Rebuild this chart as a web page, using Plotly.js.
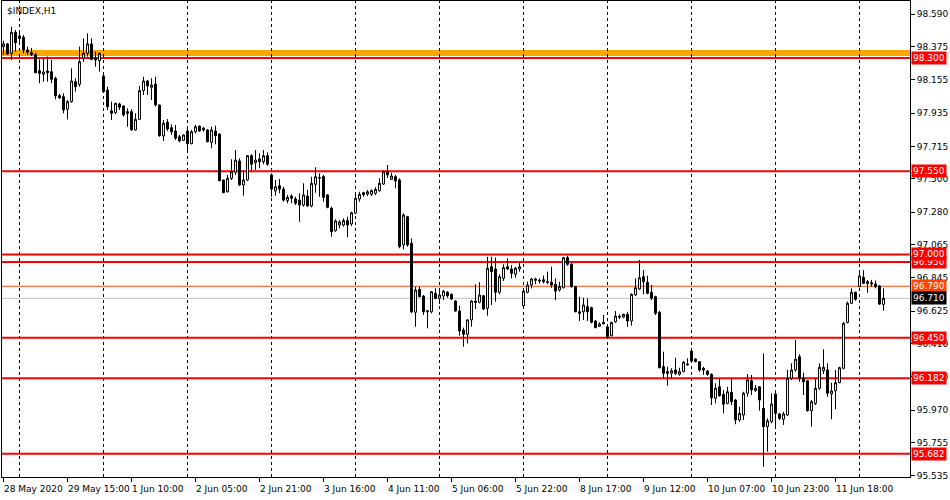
<!DOCTYPE html>
<html><head><meta charset="utf-8">
<script src="https://cdn.plot.ly/plotly-3.0.1.min.js"></script>
<style>html,body{margin:0;padding:0;background:#fff}#chart{width:950px;height:500px}</style>
</head><body><div id="chart"></div>
<script>
const symbolTitle = '$INDEX,H1';

const open = [
98.375,98.393,98.331,98.470,98.446,98.437,98.353,98.335,98.322,98.216,
98.192,98.214,98.209,98.166,98.051,98.044,97.961,98.011,98.143,98.126,
98.298,98.331,98.393,98.298,98.282,98.181,98.088,97.951,97.938,97.996,
97.982,97.945,97.945,97.824,97.894,98.084,98.148,98.106,98.128,97.989,
97.784,97.875,97.839,97.817,97.779,97.755,97.817,97.733,97.812,97.850,
97.835,97.824,97.742,97.817,97.797,97.493,97.415,97.504,97.544,97.619,
97.460,97.493,97.654,97.607,97.632,97.614,97.654,97.526,97.420,97.455,
97.433,97.356,97.387,97.367,97.360,97.327,97.387,97.321,97.464,97.504,
97.515,97.394,97.306,97.157,97.195,97.195,97.224,97.202,97.273,97.367,
97.409,97.400,97.398,97.405,97.422,97.466,97.548,97.497,97.515,97.493,
97.063,97.250,97.074,96.618,96.770,96.725,96.628,96.621,96.743,96.710,
96.725,96.750,96.737,96.692,96.626,96.500,96.472,96.567,96.692,96.684,
96.727,96.644,96.919,96.904,96.750,96.842,96.919,96.904,96.869,96.904,
96.661,96.750,96.798,96.829,96.829,96.833,96.820,96.816,96.803,96.765,
96.780,96.979,96.935,96.787,96.621,96.621,96.655,96.648,96.560,96.525,
96.551,96.522,96.463,96.555,96.591,96.586,96.604,96.560,96.732,96.772,
96.853,96.816,96.750,96.721,96.618,96.258,96.225,96.214,96.236,96.207,
96.225,96.276,96.361,96.309,96.291,96.247,96.229,96.207,96.049,96.125,
96.075,96.015,96.088,96.037,95.905,95.938,96.082,96.165,96.099,96.125,
95.982,95.861,95.894,96.077,95.945,95.910,95.938,96.181,96.236,96.324,
96.181,96.165,95.967,96.015,96.115,96.231,96.236,96.077,96.099,96.152,
96.247,96.549,96.677,96.750,96.787,96.849,96.820,96.813,96.805,96.792,
96.670];

const high = [
98.414,98.399,98.507,98.485,98.472,98.452,98.375,98.366,98.331,98.291,
98.298,98.309,98.287,98.176,98.062,98.066,98.022,98.232,98.166,98.375,
98.430,98.463,98.430,98.342,98.335,98.188,98.110,98.011,98.004,98.004,
97.989,97.967,97.961,97.934,98.115,98.176,98.154,98.166,98.176,97.992,
97.890,97.896,97.861,97.857,97.791,97.795,97.835,97.824,97.857,97.852,
97.845,97.830,97.845,97.852,97.802,97.495,97.526,97.630,97.691,97.636,
97.559,97.658,97.663,97.691,97.669,97.691,97.676,97.537,97.493,97.499,
97.448,97.394,97.398,97.382,97.405,97.471,97.427,97.515,97.577,97.537,
97.526,97.400,97.316,97.233,97.228,97.239,97.250,97.283,97.409,97.415,
97.415,97.427,97.431,97.445,97.504,97.559,97.592,97.541,97.526,97.504,
97.273,97.255,97.107,96.787,96.787,96.732,96.633,96.758,96.776,96.765,
96.765,96.758,96.743,96.699,96.661,96.516,96.573,96.699,96.803,96.816,
96.732,96.985,96.985,96.979,96.869,96.935,96.975,96.930,96.919,96.952,
96.776,96.820,96.846,96.846,96.842,96.860,96.886,96.919,96.842,96.820,
96.985,96.992,96.942,96.793,96.721,96.714,96.710,96.655,96.567,96.551,
96.600,96.527,96.555,96.626,96.604,96.608,96.621,96.743,96.842,96.964,
96.897,96.860,96.798,96.727,96.626,96.357,96.258,96.247,96.317,96.251,
96.295,96.313,96.373,96.313,96.295,96.258,96.236,96.214,96.148,96.181,
96.104,96.125,96.176,96.044,95.993,96.092,96.209,96.203,96.137,96.130,
96.346,95.916,96.082,96.082,95.953,95.960,96.236,96.280,96.434,96.340,
96.218,96.170,96.037,96.181,96.280,96.373,96.280,96.152,96.236,96.258,
96.555,96.688,96.776,96.754,96.897,96.897,96.831,96.831,96.827,96.798,
96.776];

const low = [
98.320,98.320,98.287,98.342,98.406,98.331,98.320,98.313,98.199,98.133,
98.143,98.143,98.133,98.027,98.029,97.934,97.894,98.004,98.077,98.110,
98.275,98.309,98.287,98.242,98.209,98.070,97.956,97.890,97.929,97.956,
97.912,97.845,97.820,97.820,97.890,98.055,98.055,98.022,97.978,97.779,
97.751,97.817,97.791,97.757,97.742,97.751,97.685,97.729,97.802,97.812,
97.812,97.742,97.703,97.729,97.484,97.405,97.411,97.493,97.526,97.455,
97.389,97.486,97.544,97.559,97.570,97.597,97.587,97.382,97.389,97.405,
97.349,97.339,97.339,97.327,97.217,97.316,97.316,97.312,97.409,97.382,
97.349,97.306,97.118,97.151,97.173,97.184,97.114,97.188,97.268,97.349,
97.382,97.387,97.387,97.394,97.415,97.460,97.506,97.493,97.438,97.041,
97.034,97.052,96.611,96.522,96.717,96.600,96.512,96.611,96.704,96.672,
96.699,96.714,96.699,96.621,96.463,96.390,96.412,96.522,96.639,96.677,
96.633,96.595,96.666,96.688,96.737,96.825,96.897,96.842,96.846,96.886,
96.655,96.743,96.776,96.803,96.809,96.809,96.803,96.780,96.699,96.754,
96.776,96.926,96.780,96.618,96.560,96.567,96.560,96.545,96.512,96.520,
96.538,96.446,96.459,96.549,96.573,96.578,96.522,96.529,96.727,96.765,
96.737,96.737,96.699,96.600,96.247,96.185,96.132,96.176,96.203,96.198,
96.221,96.264,96.291,96.287,96.225,96.203,96.198,96.004,96.015,96.059,
95.949,96.009,96.004,95.877,95.894,95.905,96.059,96.070,96.092,95.967,
95.596,95.695,95.883,95.861,95.905,95.872,95.931,96.170,96.225,96.158,
96.070,95.960,95.861,96.004,96.104,96.209,96.059,95.910,95.976,96.148,
96.240,96.545,96.672,96.694,96.783,96.805,96.747,96.787,96.776,96.666,
96.628];

const close = [
98.393,98.326,98.470,98.401,98.429,98.353,98.338,98.322,98.203,98.199,
98.207,98.203,98.159,98.049,98.037,97.956,98.011,98.148,98.110,98.275,
98.331,98.393,98.291,98.287,98.331,98.077,97.978,97.934,98.000,97.974,
97.923,97.934,97.824,97.894,98.084,98.148,98.115,98.121,97.989,97.786,
97.868,97.830,97.812,97.769,97.751,97.791,97.733,97.812,97.845,97.817,
97.824,97.746,97.824,97.786,97.488,97.409,97.504,97.548,97.625,97.460,
97.493,97.654,97.597,97.625,97.614,97.654,97.597,97.433,97.448,97.433,
97.360,97.378,97.372,97.339,97.327,97.394,97.321,97.471,97.515,97.508,
97.378,97.312,97.151,97.222,97.215,97.224,97.195,97.276,97.372,97.398,
97.396,97.415,97.422,97.431,97.471,97.548,97.526,97.519,97.488,97.052,
97.261,97.063,96.621,96.765,96.721,96.621,96.621,96.754,96.710,96.732,
96.758,96.727,96.706,96.626,96.494,96.472,96.567,96.692,96.684,96.732,
96.639,96.909,96.886,96.750,96.853,96.913,96.904,96.876,96.909,96.919,
96.758,96.798,96.838,96.838,96.825,96.820,96.816,96.798,96.758,96.787,
96.979,96.935,96.787,96.621,96.611,96.666,96.621,96.551,96.516,96.540,
96.542,96.456,96.551,96.593,96.586,96.604,96.560,96.737,96.780,96.846,
96.820,96.743,96.710,96.611,96.251,96.214,96.214,96.231,96.214,96.225,
96.287,96.271,96.295,96.291,96.236,96.236,96.207,96.052,96.115,96.066,
96.009,96.092,96.026,95.905,95.949,96.082,96.170,96.104,96.115,96.037,
95.861,95.900,96.011,95.949,95.916,95.945,96.181,96.236,96.307,96.181,
96.158,95.967,96.026,96.115,96.254,96.254,96.082,96.097,96.152,96.251,
96.545,96.677,96.750,96.704,96.858,96.809,96.809,96.805,96.787,96.672,
96.710];

const timeLabels = ['28 May 2020','29 May 15:00','1 Jun 10:00','2 Jun 05:00','2 Jun 21:00',
  '3 Jun 16:00','4 Jun 11:00','5 Jun 06:00','5 Jun 22:00','8 Jun 17:00','9 Jun 12:00',
  '10 Jun 07:00','10 Jun 23:00','11 Jun 18:00'];
const timeLabelBars = [0,16,32,48,64,80,96,112,128,144,160,176,192,208];
const dayStartBars = [4,25,46,67,88,109,130,151,172,193,214];

const priceTicks = [98.590,98.375,98.155,97.935,97.715,97.500,97.280,97.065,96.845,96.625,96.410,96.190,95.970,95.755,95.535];
const levelPrices = [98.300,97.550,96.950,97.000,96.450,96.182,95.682];
const zoneBand = [98.313,98.353];
const pivotLevel = 96.790;

const FONT = 'DejaVu Sans, Tahoma, sans-serif';
const barIndex = open.map((_, i) => i);
const lastPrice = close[close.length - 1];

const candle = {
  type: 'candlestick',
  x: barIndex, open: open, high: high, low: low, close: close,
  increasing: {line: {color: '#000', width: 1}, fillcolor: '#ffffff'},
  decreasing: {line: {color: '#000', width: 1}, fillcolor: '#000000'},
  whiskerwidth: 0,
  hoverinfo: 'skip',
  showlegend: false
};

const shapes = [];
shapes.push({type: 'rect', xref: 'paper', x0: 0, x1: 1, yref: 'y', y0: zoneBand[0], y1: zoneBand[1],
  fillcolor: '#FFA500', line: {width: 0}, layer: 'below'});
dayStartBars.forEach(b => shapes.push({type: 'line', xref: 'x', x0: b, x1: b, yref: 'paper', y0: 0, y1: 1,
  line: {color: '#000', width: 1, dash: '3px,3px'}, layer: 'below'}));
levelPrices.forEach(p => shapes.push({type: 'line', xref: 'paper', x0: 0, x1: 1, yref: 'y', y0: p, y1: p,
  line: {color: '#FF0000', width: 2}, layer: 'below'}));
shapes.push({type: 'line', xref: 'paper', x0: 0, x1: 1, yref: 'y', y0: pivotLevel, y1: pivotLevel,
  line: {color: '#FF4500', width: 1}, layer: 'below'});
shapes.push({type: 'line', xref: 'paper', x0: 0, x1: 1, yref: 'y', y0: lastPrice, y1: lastPrice,
  line: {color: '#C0C0C0', width: 1}, layer: 'below'});

const annotations = [];
annotations.push({text: symbolTitle, xref: 'paper', yref: 'paper', x: 0, y: 1, xanchor: 'left', yanchor: 'top',
  xshift: 3, yshift: -3, showarrow: false, font: {family: FONT, size: 9, color: '#000'}});
timeLabels.forEach((t, k) => annotations.push({text: t, xref: 'x', yref: 'paper', x: timeLabelBars[k], y: 0,
  xanchor: 'left', yanchor: 'top', xshift: -2, yshift: -5, showarrow: false,
  font: {family: FONT, size: 9, color: '#000'}}));
function priceLabel(p, bg) {
  return {text: p.toFixed(3), xref: 'paper', yref: 'y', x: 1, y: p, xanchor: 'left', yanchor: 'middle',
    xshift: 1, showarrow: false, bgcolor: bg, borderpad: 1,
    font: {family: FONT, size: 9, color: '#fff'}};
}
levelPrices.forEach(p => annotations.push(priceLabel(p, '#FF0000')));
annotations.push(priceLabel(pivotLevel, '#FF4500'));
annotations.push(priceLabel(lastPrice, '#000000'));

const layout = {
  width: 950, height: 500,
  margin: {l: 2, r: 40, t: 1, b: 23, pad: 0},
  paper_bgcolor: '#fff', plot_bgcolor: '#fff',
  showlegend: false,
  xaxis: {range: [-0.375, 226.625], showgrid: false, zeroline: false, showline: true, mirror: true,
    linecolor: '#000', linewidth: 1, rangeslider: {visible: false},
    tickvals: timeLabelBars, showticklabels: false, ticks: 'outside', ticklen: 4, tickcolor: '#000', fixedrange: true},
  yaxis: {side: 'right', range: [95.528, 98.677], showgrid: false, zeroline: false, showline: true, mirror: true,
    linecolor: '#000', linewidth: 1, tickvals: priceTicks, ticktext: priceTicks.map(v => v.toFixed(3)),
    ticks: 'outside', ticklen: 4, tickcolor: '#000', tickfont: {family: FONT, size: 9, color: '#000'}, fixedrange: true},
  shapes: shapes,
  annotations: annotations
};

Plotly.newPlot('chart', [candle], layout, {displayModeBar: false, staticPlot: true});
</script>
</body></html>
